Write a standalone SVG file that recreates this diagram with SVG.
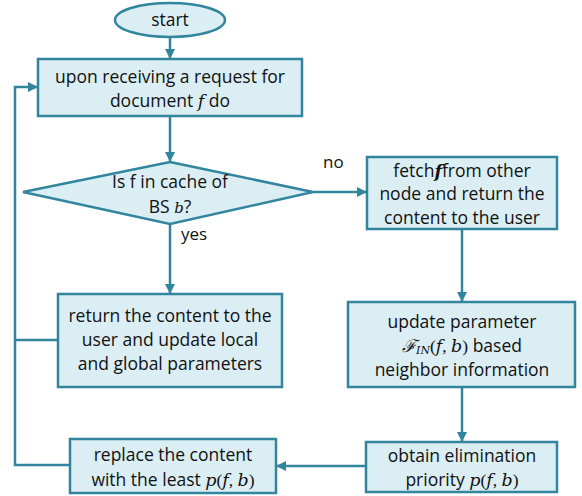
<svg xmlns="http://www.w3.org/2000/svg" width="582" height="496" viewBox="0 0 582 496">
<defs>
<marker id="ah" viewBox="0 0 10 10" refX="10" refY="5" markerWidth="4" markerHeight="4" orient="auto" markerUnits="strokeWidth"><path d="M0,0 L10,5 L0,10 z" fill="#31859C"/></marker>
<style>
.n{fill:#DBEEF4;stroke:#31859C;stroke-width:2.5}
.c{fill:none;stroke:#31859C;stroke-width:2.5}
.t{font-family:"Open Sans","Liberation Sans",sans-serif;font-size:17.5px;fill:#111;text-anchor:middle}
.l{font-family:"Open Sans","Liberation Sans",sans-serif;font-size:17px;fill:#111}
.m{font-family:"DejaVu Serif","Liberation Serif",serif;font-style:italic}
.p{font-family:"Liberation Serif",serif}
</style>
</defs>
<g id="connectors">
<line class="c" x1="170" y1="37" x2="170" y2="59" marker-end="url(#ah)"/>
<line class="c" x1="170" y1="116" x2="170" y2="162" marker-end="url(#ah)"/>
<line class="c" x1="313" y1="192" x2="367" y2="192" marker-end="url(#ah)"/>
<line class="c" x1="170" y1="224" x2="170" y2="294" marker-end="url(#ah)"/>
<line class="c" x1="462" y1="229" x2="462" y2="302" marker-end="url(#ah)"/>
<line class="c" x1="462" y1="387" x2="462" y2="442" marker-end="url(#ah)"/>
<line class="c" x1="366" y1="466" x2="276" y2="466" marker-end="url(#ah)"/>
<polyline class="c" points="70,465 15,465 15,87 38,87" marker-end="url(#ah)"/>
<line class="c" x1="58" y1="340" x2="15" y2="340"/>
<text class="l" x="323" y="168">no</text>
<text class="l" x="181" y="240">yes</text>
</g>
<g id="start">
<ellipse class="n" cx="170" cy="20" rx="55" ry="17"/>
<text class="t" x="170" y="26">start</text>
</g>
<g id="receive">
<rect class="n" x="38" y="59" width="264" height="57"/>
<text class="t" x="170" y="83">upon receiving a request for</text>
<text class="t" x="170" y="107">document <tspan class="m">𝑓</tspan> do</text>
</g>
<g id="decision">
<polygon class="n" points="170,162 313,192 170,224 23,192"/>
<text class="t" x="170" y="188">Is f in cache of</text>
<text class="t" x="170" y="213">BS <tspan class="m" font-size="15">b</tspan>?</text>
</g>
<g id="fetch">
<rect class="n" x="367" y="157" width="190" height="72"/>
<text class="t" x="462" y="177">fetch<tspan class="m" font-weight="bold">𝒇</tspan>from other</text>
<text class="t" x="462" y="200">node and return the</text>
<text class="t" x="462" y="224">content to the user</text>
</g>
<g id="return">
<rect class="n" x="58" y="294" width="224" height="93"/>
<text class="t" x="170" y="322">return the content to the</text>
<text class="t" x="170" y="346">user and update local</text>
<text class="t" x="170" y="370">and global parameters</text>
</g>
<g id="update">
<rect class="n" x="348" y="302" width="227" height="85"/>
<text class="t" x="462" y="328">update  parameter</text>
<text class="t" x="462" y="352"><tspan class="m">ℱ</tspan><tspan class="m" font-size="11" dy="2">IN</tspan><tspan dy="-2" class="p">(</tspan><tspan class="m">f</tspan><tspan class="p">, </tspan><tspan class="m">b</tspan><tspan class="p">)</tspan> based</text>
<text class="t" x="462" y="376">neighbor information</text>
</g>
<g id="obtain">
<rect class="n" x="366" y="442" width="191" height="50"/>
<text class="t" x="462" y="462">obtain elimination</text>
<text class="t" x="462" y="486">priority <tspan class="m">p</tspan><tspan class="p">(</tspan><tspan class="m">f</tspan><tspan class="p">, </tspan><tspan class="m">b</tspan><tspan class="p">)</tspan></text>
</g>
<g id="replace">
<rect class="n" x="70" y="439" width="206" height="54"/>
<text class="t" x="173" y="461">replace the content</text>
<text class="t" x="173" y="486">with the least <tspan class="m">p</tspan><tspan class="p">(</tspan><tspan class="m">f</tspan><tspan class="p">, </tspan><tspan class="m">b</tspan><tspan class="p">)</tspan></text>
</g>
</svg>
